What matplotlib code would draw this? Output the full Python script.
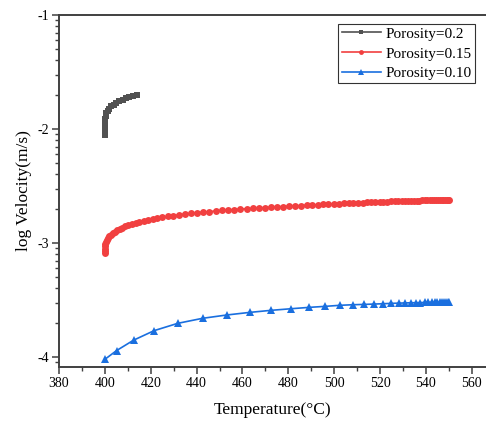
import numpy as np
import matplotlib
matplotlib.use("Agg")
import matplotlib.pyplot as plt
from matplotlib.ticker import FixedLocator, LogLocator, NullFormatter

plt.rcParams['font.family'] = ['Liberation Serif', 'DejaVu Serif']

# porosity 0.2 : temperature (C) and log10 velocity (m/s)
t_02 = [400.0, 400.0, 400.0, 400.0, 400.05, 400.15, 400.35, 400.7, 401.2, 401.9,
        402.8, 403.8, 405.0, 406.3, 407.7, 409.2, 410.7, 412.2, 413.8]
v_02 = [-2.05, -2.02, -1.99, -1.96, -1.935, -1.91, -1.885, -1.86, -1.84, -1.82,
        -1.80, -1.785, -1.77, -1.755, -1.742, -1.73, -1.72, -1.71, -1.70]

# porosity 0.15
t_015 = [400.0, 400.0, 400.05, 400.1, 400.25, 400.5, 400.85, 401.3, 401.9, 402.6,
         403.4, 404.3, 405.3, 406.4, 407.6, 408.9, 410.3, 411.8, 413.4, 415.1,
         416.9, 418.8, 420.8, 422.9, 425.1, 427.4, 429.8, 432.3, 434.9, 437.5,
         440.2, 442.9, 445.6, 448.3, 451.0, 453.7, 456.4, 459.1, 461.8, 464.5,
         467.2, 469.9, 472.6, 475.2, 477.8, 480.4, 483.0, 485.5, 488.0, 490.4,
         492.8, 495.2, 497.5, 499.8, 502.0, 504.2, 506.3, 508.4, 510.4, 512.4,
         514.3, 516.2, 518.0, 519.8, 521.5, 523.2, 524.8, 526.4, 527.9, 529.4,
         530.8, 532.2, 533.5, 534.8, 536.0, 537.2, 538.4, 539.5, 540.6, 541.6,
         542.6, 543.5, 544.4, 545.3, 546.1, 546.9, 547.6, 548.3, 549.0, 549.6,
         550.0]
v_015 = [-3.090, -3.070, -3.050, -3.030, -3.010, -2.990, -2.972, -2.955, -2.940, -2.926,
         -2.912, -2.899, -2.887, -2.876, -2.865, -2.854, -2.843, -2.833, -2.824, -2.815,
         -2.806, -2.797, -2.789, -2.781, -2.774, -2.767, -2.760, -2.753, -2.746, -2.740,
         -2.734, -2.729, -2.724, -2.719, -2.714, -2.710, -2.706, -2.702, -2.699, -2.696,
         -2.693, -2.689, -2.686, -2.683, -2.680, -2.677, -2.674, -2.671, -2.669, -2.666,
         -2.664, -2.661, -2.659, -2.657, -2.655, -2.653, -2.651, -2.649, -2.647, -2.645,
         -2.644, -2.642, -2.641, -2.639, -2.638, -2.636, -2.635, -2.634, -2.633, -2.632,
         -2.631, -2.630, -2.629, -2.628, -2.628, -2.627, -2.626, -2.626, -2.625, -2.625,
         -2.624, -2.624, -2.623, -2.623, -2.623, -2.622, -2.622, -2.622, -2.622, -2.621,
         -2.621]

# porosity 0.10
t_010 = [400.0, 405.1, 412.5, 421.5, 431.8, 442.6, 453.1, 463.2, 472.5, 481.2,
         489.1, 496.2, 502.4, 508.1, 513.1, 517.4, 521.4, 524.9, 528.1, 530.8,
         533.3, 535.6, 537.6, 539.4, 541.0, 542.5, 543.8, 545.0, 546.1, 547.1,
         548.0, 548.8, 549.5, 550.0]
v_010 = [-4.020, -3.943, -3.852, -3.768, -3.704, -3.660, -3.631, -3.608, -3.590, -3.576,
         -3.564, -3.555, -3.546, -3.541, -3.538, -3.535, -3.532, -3.529, -3.527, -3.525,
         -3.524, -3.523, -3.522, -3.521, -3.520, -3.519, -3.519, -3.518, -3.518, -3.517,
         -3.517, -3.516, -3.516, -3.516]

labels = ['Porosity=0.2', 'Porosity=0.15', 'Porosity=0.10']
colors = ['#515151', '#F14040', '#1A6FDF']
x_ticks = [380, 400, 420, 440, 460, 480, 500, 520, 540, 560]
y_ticks = [-1, -2, -3, -4]

fig = plt.figure(figsize=(4.86, 4.23), dpi=100)
ax = fig.add_axes([59 / 486, 1 - 367 / 423, 1 - 59 / 486, 352 / 423])

series = [(t_02, v_02, 's', 5.0, 3.0), (t_015, v_015, 'o', 5.0, 1.2),
          (t_010, v_010, '^', 6.0, 1.2)]
lines = []
for (t, v, m, ms, lw), lab, c in zip(series, labels, colors):
    ln, = ax.plot(t, 10.0 ** np.array(v), color=c, marker=m, markersize=ms, lw=lw,
                  markeredgewidth=0, label=lab)
    lines.append(ln)

ax.set_yscale('log')
ax.set_xlim(380, 566.2)
ax.set_ylim(10 ** -4.087, 10 ** -1)
ax.xaxis.set_major_locator(FixedLocator(x_ticks))
ax.xaxis.set_minor_locator(FixedLocator([x + 10 for x in x_ticks]))
ax.yaxis.set_major_locator(FixedLocator([10.0 ** k for k in y_ticks]))
ax.yaxis.set_minor_locator(LogLocator(base=10, subs=np.arange(2, 10), numticks=20))
ax.yaxis.set_minor_formatter(NullFormatter())
ax.set_yticklabels([str(k) for k in y_ticks])

spine_c = '#404040'
for side in ['left', 'bottom', 'top']:
    ax.spines[side].set_color(spine_c)
    ax.spines[side].set_linewidth(1.4)
ax.spines['right'].set_visible(False)
ax.tick_params(which='major', direction='out', length=5, width=1.1, color=spine_c,
               labelsize=10, pad=2, top=False, right=False)
ax.tick_params(which='minor', direction='out', length=3, width=1.0, color=spine_c,
               top=False, right=False)

ax.set_xlabel('Temperature(\u00b0C)', fontsize=12.5, labelpad=9)
ax.set_ylabel('log Velocity(m/s)', fontsize=12.5, labelpad=4)

leg = ax.legend(loc='upper right', bbox_to_anchor=(475 / 486, 1 - 24 / 423),
                bbox_transform=fig.transFigure, borderaxespad=0, fontsize=11,
                frameon=True, fancybox=False, handlelength=2.6, handletextpad=0.3,
                borderpad=0.2, labelspacing=0.4, markerscale=0.7)
leg.get_frame().set_edgecolor('black')
leg.get_frame().set_linewidth(0.8)
for h in leg.legend_handles:
    h.set_linewidth(1.2)

fig.savefig('out.png', dpi=100)
